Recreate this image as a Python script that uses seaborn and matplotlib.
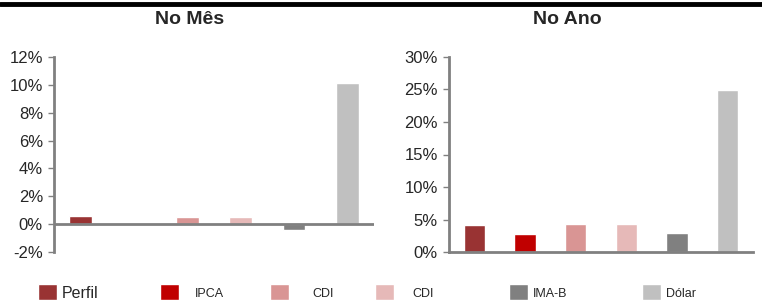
import numpy as np
import pandas as pd
import matplotlib.pyplot as plt
import matplotlib.lines as mlines
from matplotlib.ticker import FuncFormatter
import seaborn as sns

# data
categorias = ["Perfil", "IPCA", "CDI", "CDI ", "IMA-B", "Dólar"]
legenda = ["Perfil", "IPCA", "CDI", "CDI", "IMA-B", "Dólar"]
no_mes = [0.6, 0.0, 0.5, 0.5, -0.45, 10.1]
no_ano = [4.15, 2.8, 4.3, 4.3, 2.9, 24.9]
cores = ["#993333", "#C00000", "#D99594", "#E6B9B8", "#808080", "#C0C0C0"]

sns.set_style("white")
plt.rcParams['font.family'] = ['Liberation Sans', 'DejaVu Sans']

df = pd.DataFrame({"cat": categorias, "mes": no_mes, "ano": no_ano})
pal = dict(zip(categorias, cores))

fig = plt.figure(figsize=(7.62, 3.0), dpi=100)
ax1 = fig.add_axes([54/762, 1-252/300, 320/762, 195/300])
ax2 = fig.add_axes([449/762, 1-252/300, 304/762, 195/300])

spine_c = "#808080"

sns.barplot(data=df, x="cat", y="mes", hue="cat", palette=pal, ax=ax1,
            width=0.42, legend=False, saturation=1)
ax1.set_ylim(-2, 12)
ax1.set_yticks(np.arange(-2, 13, 2))
ax1.axhline(0, color=spine_c, lw=2, zorder=3)
ax1.spines['bottom'].set_visible(False)

sns.barplot(data=df, x="cat", y="ano", hue="cat", palette=pal, ax=ax2,
            width=0.42, legend=False, saturation=1)
ax2.set_ylim(0, 30)
ax2.set_yticks(np.arange(0, 31, 5))
ax2.spines['bottom'].set_color(spine_c)
ax2.spines['bottom'].set_linewidth(2)

for ax in (ax1, ax2):
    ax.set_xlim(-0.5, 5.5)
    ax.set_xlabel("")
    ax.set_ylabel("")
    ax.set_xticks([])
    ax.spines['top'].set_visible(False)
    ax.spines['right'].set_visible(False)
    ax.spines['left'].set_color(spine_c)
    ax.spines['left'].set_linewidth(2)
    ax.yaxis.set_major_formatter(FuncFormatter(lambda v, p: f"{v:.0f}%"))
    ax.tick_params(axis='y', left=True, length=4, width=1, color=spine_c,
                   labelsize=12, pad=4, direction='out')

fig.text(190/762, 1-20/300, "No Mês", ha="center", va="center",
         fontsize=14, fontweight="bold")
fig.text(567/762, 1-20/300, "No Ano", ha="center", va="center",
         fontsize=14, fontweight="bold")

# thick black line on top
fig.add_artist(mlines.Line2D([0, 1], [1-3.5/300, 1-3.5/300], color="black",
                             lw=3.5, transform=fig.transFigure))

# legend row along the bottom
marker_x = [38, 160, 270, 375, 509, 642]
label_x = [62, 195, 312, 412, 533, 666]
for i in range(6):
    fig.patches.append(plt.Rectangle((marker_x[i]/762, 0), 19/762, 16/300,
                                     facecolor=cores[i], transform=fig.transFigure,
                                     figure=fig))
    fig.text(label_x[i]/762, 1-294/300, legenda[i], ha="left", va="center",
             fontsize=11.5 if i == 0 else 9)

fig.savefig("out.png", dpi=100)
